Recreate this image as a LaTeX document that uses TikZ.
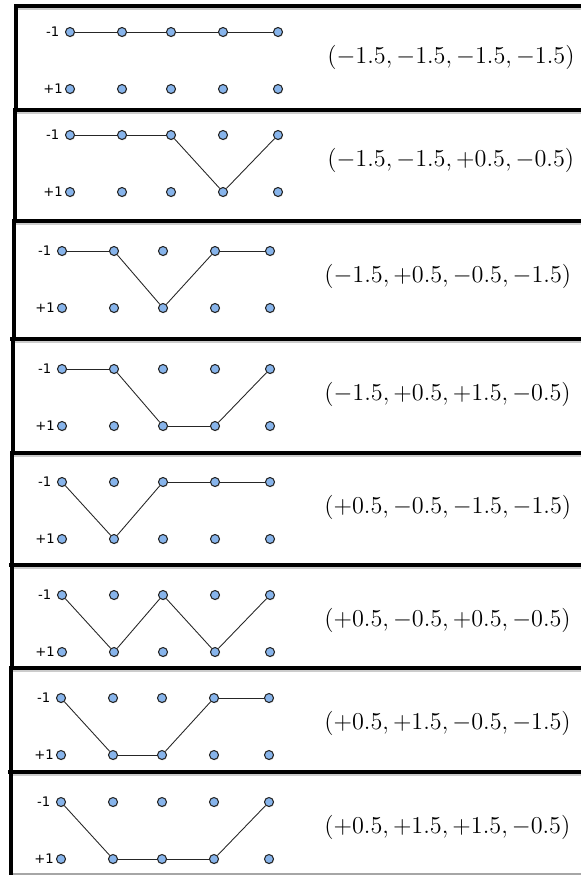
\RequirePackage{fix-cm}
\documentclass[tikz,border=0pt]{standalone}
\usepackage{fontspec}
\newfontfamily\lblfont{DejaVu Sans}
\usepackage{xcolor}
\usetikzlibrary{positioning, shadows}
\definecolor{dotblue}{RGB}{135,180,235}

\begin{document}
\begin{tikzpicture}[x=0.02cm, y=-0.02cm,
    dot/.style={circle, draw=black!85, line width=0.6pt, fill=dotblue,
        inner sep=0pt, minimum size=0.18cm,
        drop shadow={shadow xshift=0.4pt, shadow yshift=-0.5pt, opacity=0.3}},
    walk/.style={line width=0.5pt, black!85},
    frame/.style={line width=2.2pt, black},
    rowlbl/.style={font=\lblfont\fontsize{7.5}{9}\selectfont, inner sep=1pt},
    vec/.style={font=\fontsize{13.8}{16}\selectfont, anchor=west, inner sep=0pt}]
    \useasboundingbox (0,0) rectangle (581,875);

    % Rahmen der Felder
    \foreach \y/\x in {6/16, 110/15, 221/14, 339/12, 453/12, 565/11, 668/11, 772/10}{
        \draw[gray!40, line width=1.5pt] (\x+2,\y+3) -- (581,\y+3);
        \draw[frame] (\x-2,\y) -- (581,\y);
    }
    \draw[gray!70, line width=0.8pt] (10,874) -- (581,874);
    \foreach \a/\b/\x in {6/110/16, 110/221/15, 221/339/14, 339/453/13,
                          453/565/12, 565/668/12, 668/772/11, 772/875/11}
        \draw[frame] (\x,\a) -- (\x,\b);

    % Pfade und Vektoren
    \foreach \p/\ty/\sx/\tx/\seq/\vals in {
        1/32/70/327/{t,t,t,t,t}/{$(-1.5,-1.5,-1.5,-1.5)$},
        2/135/70/327/{t,t,t,b,t}/{$(-1.5,-1.5,+0.5,-0.5)$},
        3/251/62/324/{t,t,b,t,t}/{$(-1.5,+0.5,-0.5,-1.5)$},
        4/369/62/324/{t,t,b,b,t}/{$(-1.5,+0.5,+1.5,-0.5)$},
        5/482/62/324/{t,b,t,t,t}/{$(+0.5,-0.5,-1.5,-1.5)$},
        6/595/62/324/{t,b,t,b,t}/{$(+0.5,-0.5,+0.5,-0.5)$},
        7/698/61/324/{t,b,b,t,t}/{$(+0.5,+1.5,-0.5,-1.5)$},
        8/802/61/324/{t,b,b,b,t}/{$(+0.5,+1.5,+1.5,-0.5)$}}{
        \foreach \o [count=\i] in {0,52,101,153,208}{
            \node[dot] (t\p-\i) at (\sx+\o,\ty) {};
            \node[dot] (b\p-\i) at (\sx+\o,\ty+57) {};
        }
        \node[rowlbl, left=2pt of t\p-1] (m\p) {-1};
        \node[rowlbl, left=0pt of b\p-1] (n\p) {+1};
        \foreach \r [count=\i, remember=\r as \q (initially t),
                     remember=\i as \j (initially 0)] in \seq{
            \ifnum\i>1 \draw[walk] (\q\p-\j) -- (\r\p-\i); \fi
        }
        \node[vec] (v\p) at (\tx,\ty+25) {\vals};
    }
\end{tikzpicture}
\end{document}
